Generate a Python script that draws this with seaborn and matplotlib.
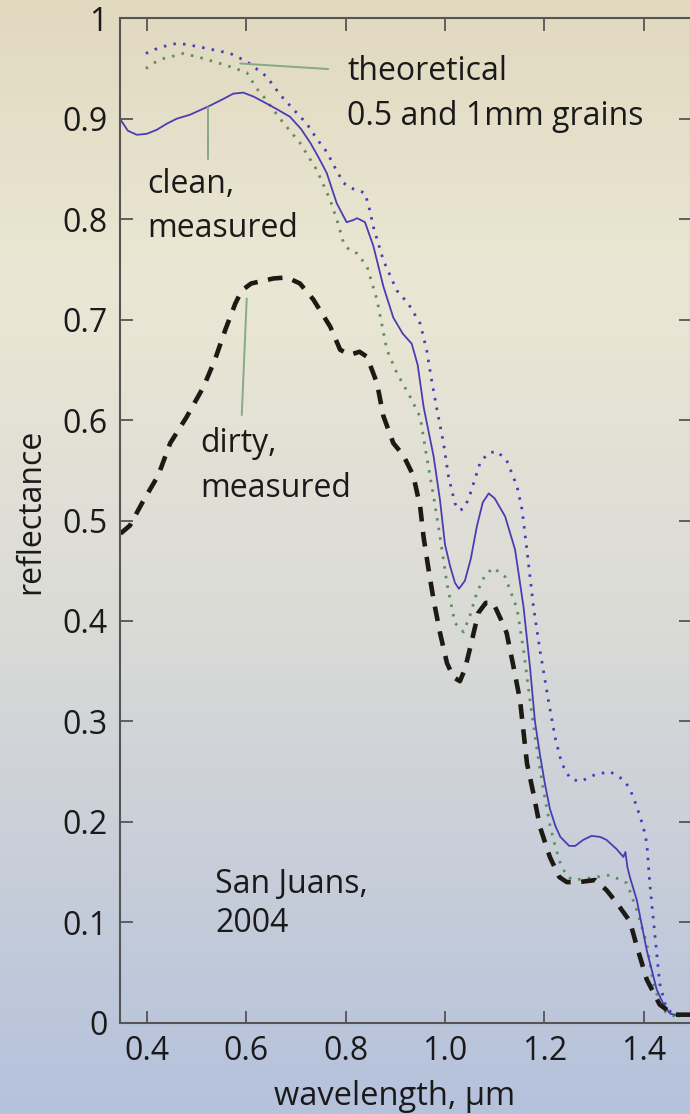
import numpy as np
import pandas as pd
import matplotlib
matplotlib.use("Agg")
import matplotlib.pyplot as plt
import seaborn as sns
from matplotlib.colors import LinearSegmentedColormap

# ---------------- data ----------------
clean_x = [0.347, 0.362, 0.380, 0.400, 0.420, 0.440, 0.460, 0.487, 0.527, 0.555, 0.574, 0.594,
           0.615, 0.634, 0.660, 0.688, 0.710, 0.729, 0.745, 0.762, 0.782, 0.802, 0.815, 0.823,
           0.839, 0.856, 0.876, 0.896, 0.915, 0.933, 0.945, 0.957, 0.977, 0.990, 1.000, 1.010,
           1.020, 1.028, 1.040, 1.052, 1.064, 1.076, 1.088, 1.100, 1.121, 1.141, 1.158, 1.171,
           1.181, 1.191, 1.201, 1.211, 1.222, 1.232, 1.250, 1.262, 1.278, 1.295, 1.312, 1.325,
           1.345, 1.359, 1.363, 1.367, 1.372, 1.386, 1.406, 1.426, 1.440, 1.453, 1.470, 1.495]
clean_y = [0.899, 0.888, 0.884, 0.885, 0.889, 0.895, 0.900, 0.904, 0.913, 0.920, 0.925, 0.926,
           0.922, 0.917, 0.910, 0.902, 0.890, 0.876, 0.862, 0.846, 0.816, 0.797, 0.799, 0.801,
           0.797, 0.773, 0.733, 0.702, 0.686, 0.676, 0.655, 0.613, 0.564, 0.520, 0.476, 0.455,
           0.438, 0.432, 0.440, 0.462, 0.494, 0.518, 0.527, 0.522, 0.504, 0.471, 0.414, 0.354,
           0.300, 0.267, 0.238, 0.213, 0.196, 0.185, 0.176, 0.176, 0.182, 0.186, 0.185, 0.182,
           0.173, 0.165, 0.170, 0.155, 0.145, 0.122, 0.072, 0.033, 0.018, 0.009, 0.007, 0.007]

theo05_x = [0.398, 0.416, 0.434, 0.460, 0.480, 0.521, 0.568, 0.601, 0.641, 0.668, 0.690, 0.722,
            0.742, 0.762, 0.780, 0.796, 0.810, 0.823, 0.839, 0.848, 0.856, 0.876, 0.903, 0.926,
            0.950, 0.963, 0.974, 0.984, 0.997, 1.007, 1.020, 1.030, 1.040, 1.051, 1.071, 1.087,
            1.104, 1.124, 1.145, 1.155, 1.165, 1.178, 1.191, 1.208, 1.222, 1.235, 1.252, 1.272,
            1.302, 1.332, 1.359, 1.372, 1.386, 1.399, 1.406, 1.412, 1.422, 1.432, 1.445, 1.460,
            1.477]
theo05_y = [0.965, 0.969, 0.972, 0.975, 0.974, 0.970, 0.965, 0.957, 0.942, 0.924, 0.912, 0.895,
            0.880, 0.867, 0.850, 0.836, 0.831, 0.829, 0.826, 0.810, 0.792, 0.759, 0.729, 0.716,
            0.696, 0.670, 0.637, 0.610, 0.577, 0.544, 0.517, 0.510, 0.513, 0.527, 0.558, 0.567,
            0.569, 0.560, 0.534, 0.511, 0.470, 0.414, 0.371, 0.321, 0.283, 0.258, 0.243, 0.240,
            0.247, 0.250, 0.242, 0.233, 0.215, 0.195, 0.179, 0.139, 0.089, 0.039, 0.015, 0.008,
            0.006]

theo1_x = [0.398, 0.416, 0.434, 0.474, 0.514, 0.561, 0.601, 0.621, 0.635, 0.668, 0.708, 0.742,
           0.769, 0.784, 0.796, 0.810, 0.823, 0.843, 0.863, 0.883, 0.903, 0.930, 0.950, 0.963,
           0.977, 0.990, 1.004, 1.020, 1.037, 1.050, 1.064, 1.080, 1.097, 1.121, 1.145, 1.158,
           1.171, 1.185, 1.198, 1.211, 1.222, 1.232, 1.245, 1.258, 1.291, 1.332, 1.366, 1.386,
           1.406, 1.419, 1.432, 1.446, 1.466]
theo1_y = [0.950, 0.956, 0.960, 0.965, 0.960, 0.953, 0.946, 0.930, 0.922, 0.900, 0.876, 0.849,
           0.819, 0.797, 0.776, 0.768, 0.766, 0.753, 0.720, 0.670, 0.647, 0.623, 0.603, 0.564,
           0.524, 0.484, 0.437, 0.398, 0.389, 0.405, 0.428, 0.445, 0.453, 0.444, 0.412, 0.371,
           0.321, 0.272, 0.232, 0.197, 0.175, 0.159, 0.146, 0.142, 0.144, 0.147, 0.139, 0.112,
           0.079, 0.039, 0.020, 0.009, 0.006]

dirty_x = [0.347, 0.366, 0.390, 0.423, 0.447, 0.480, 0.514, 0.537, 0.558, 0.578, 0.591, 0.610,
           0.628, 0.655, 0.682, 0.708, 0.735, 0.769, 0.789, 0.809, 0.828, 0.843, 0.863, 0.876,
           0.896, 0.916, 0.936, 0.950, 0.957, 0.967, 0.977, 0.990, 1.004, 1.017, 1.030, 1.040,
           1.051, 1.067, 1.082, 1.097, 1.112, 1.124, 1.138, 1.151, 1.165, 1.178, 1.191, 1.211,
           1.230, 1.245, 1.270, 1.302, 1.325, 1.346, 1.372, 1.386, 1.406, 1.432, 1.460, 1.495]
dirty_y = [0.487, 0.495, 0.517, 0.545, 0.577, 0.603, 0.633, 0.660, 0.690, 0.716, 0.729, 0.736,
           0.738, 0.741, 0.742, 0.736, 0.720, 0.693, 0.670, 0.665, 0.668, 0.663, 0.637, 0.604,
           0.577, 0.565, 0.545, 0.514, 0.483, 0.451, 0.421, 0.388, 0.358, 0.344, 0.340, 0.352,
           0.374, 0.408, 0.418, 0.418, 0.402, 0.388, 0.354, 0.321, 0.258, 0.228, 0.195, 0.165,
           0.145, 0.140, 0.140, 0.142, 0.132, 0.119, 0.101, 0.076, 0.043, 0.018, 0.008, 0.008]

x_ticks = [0.4, 0.6, 0.8, 1.0, 1.2, 1.4]
x_tick_labels = ["0.4", "0.6", "0.8", "1.0", "1.2", "1.4"]
y_ticks = [0.0, 0.1, 0.2, 0.3, 0.4, 0.5, 0.6, 0.7, 0.8, 0.9, 1.0]
y_tick_labels = ["0", "0.1", "0.2", "0.3", "0.4", "0.5", "0.6", "0.7", "0.8", "0.9", "1"]

# annotation leader lines (x pair, y pair)
lead_theo = ([0.588, 0.765], [0.955, 0.9495])
lead_clean = ([0.523, 0.523], [0.912, 0.860])
lead_dirty = ([0.601, 0.591], [0.721, 0.605])

# ---------------- style ----------------
sns.set_style("ticks")
plt.rcParams['font.family'] = ['Open Sans', 'DejaVu Sans']

W, H = 690, 1114
fig = plt.figure(figsize=(W / 100, H / 100), dpi=100)

bg = fig.add_axes([0, 0, 1, 1], zorder=0)
cmap = LinearSegmentedColormap.from_list(
    "bg", [(0.0, "#b5c2dc"), (0.45, "#dbdbd7"), (0.75, "#ebe7d4"), (1.0, "#e1d9c0")])
grad = np.linspace(0, 1, 256).reshape(-1, 1)
bg.imshow(grad, aspect="auto", cmap=cmap, origin="lower", extent=[0, 1, 0, 1])
bg.axis("off")

left_px, right_px, top_px, bottom_px = 120, 691, 18.3, 1022.7
ax = fig.add_axes([left_px / W, (H - bottom_px) / H, (right_px - left_px) / W,
                   (bottom_px - top_px) / H], zorder=1)
ax.patch.set_alpha(0)

blue = "#4a3db4"
green = "#5c8f5c"

df_clean = pd.DataFrame({"x": clean_x, "y": clean_y})
df_t05 = pd.DataFrame({"x": theo05_x, "y": theo05_y})
df_t1 = pd.DataFrame({"x": theo1_x, "y": theo1_y})
df_dirty = pd.DataFrame({"x": dirty_x, "y": dirty_y})

sns.lineplot(data=df_t05, x="x", y="y", ax=ax, color=blue, lw=2.0, sort=False, estimator=None)
ax.lines[-1].set_linestyle((0, (0.9, 2.6)))
sns.lineplot(data=df_t1, x="x", y="y", ax=ax, color=green, lw=2.0, sort=False, estimator=None)
ax.lines[-1].set_linestyle((0, (0.9, 2.6)))
sns.lineplot(data=df_clean, x="x", y="y", ax=ax, color=blue, lw=1.3, sort=False, estimator=None)
ax.lines[-1].set_solid_joinstyle("round")
sns.lineplot(data=df_dirty, x="x", y="y", ax=ax, color="#1c1a12", lw=3.3, sort=False, estimator=None)
ax.lines[-1].set_linestyle((0, (3.2, 2.3)))
ax.lines[-1].set_dash_joinstyle("round")

lead_col = "#86aa86"
for xs, ys in (lead_theo, lead_clean, lead_dirty):
    ax.plot(xs, ys, color=lead_col, lw=1.4)

ax.set_xlim(0.346, 1.495)
ax.set_ylim(0, 1)
ax.set_xticks(x_ticks)
ax.set_xticklabels(x_tick_labels)
ax.set_yticks(y_ticks)
ax.set_yticklabels(y_tick_labels)

spine_col = "#555555"
for s in ax.spines.values():
    s.set_color(spine_col)
    s.set_linewidth(1.5)
ax.tick_params(direction="in", top=True, right=True, length=9, width=1.3,
               color=spine_col, labelcolor="#1a1a1a", labelsize=23, pad=9)

ax.set_xlabel("wavelength, µm", fontsize=23.5, color="#1a1a1a", va="baseline")
ax.xaxis.set_label_coords((395 - left_px) / (right_px - left_px), (bottom_px - 1105) / (bottom_px - top_px))
ax.set_ylabel("reflectance", fontsize=23, color="#1a1a1a", va="center")
ax.yaxis.set_label_coords((31 - left_px) / (right_px - left_px), (bottom_px - 511) / (bottom_px - top_px))

tcol = "#1a1a1a"
fs = 23
ax.text(0.803, 0.9386, "theoretical", fontsize=fs, color=tcol, va="baseline")
ax.text(0.803, 0.894, "0.5 and 1mm grains", fontsize=fs, color=tcol, va="baseline")
ax.text(0.4006, 0.826, "clean,", fontsize=fs, color=tcol, va="baseline")
ax.text(0.4006, 0.782, "measured", fontsize=fs, color=tcol, va="baseline")
ax.text(0.507, 0.568, "dirty,", fontsize=fs, color=tcol, va="baseline")
ax.text(0.507, 0.523, "measured", fontsize=fs, color=tcol, va="baseline")
ax.text(0.537, 0.129, "San Juans,", fontsize=fs, color=tcol, va="baseline")
ax.text(0.537, 0.0903, "2004", fontsize=fs, color=tcol, va="baseline")

fig.savefig("out.png", dpi=100)
